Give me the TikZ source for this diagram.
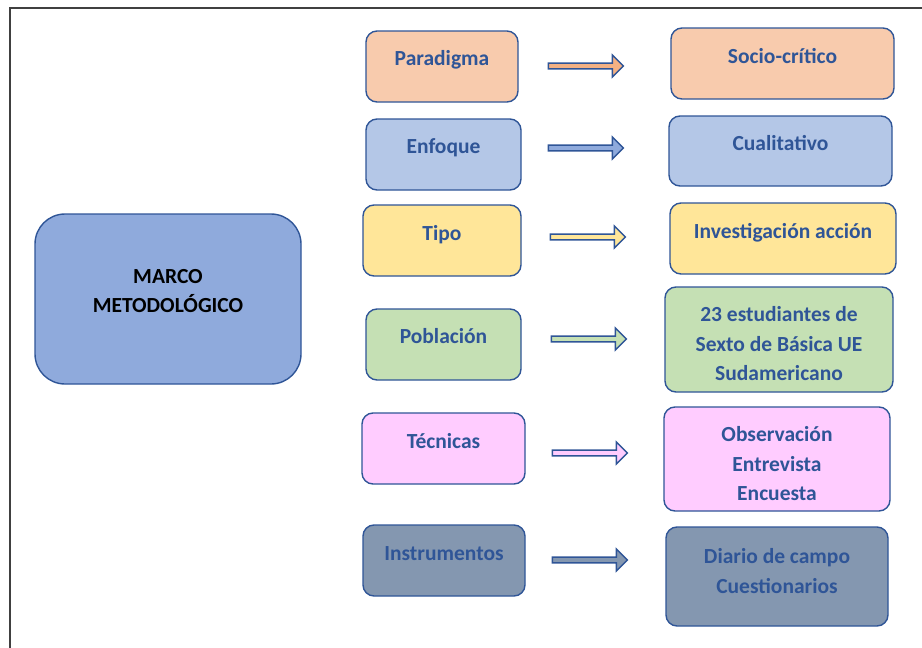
\documentclass[tikz,border=0pt]{standalone}
\usepackage{fontspec}
\setmainfont{Carlito}
\usetikzlibrary{shapes.arrows}

\definecolor{frameblue}{HTML}{2F5597}
\definecolor{peach}{HTML}{F8CBAD}
\definecolor{peachdark}{HTML}{F4B183}
\definecolor{lightblue}{HTML}{B4C7E7}
\definecolor{midblue}{HTML}{8FAADC}
\definecolor{lightyellow}{HTML}{FFE699}
\definecolor{lightgreen}{HTML}{C5E0B4}
\definecolor{pink}{HTML}{FFCCFF}
\definecolor{slate}{HTML}{8497B0}

\tikzset{
  box/.style={draw=frameblue, line width=1.4pt, rounded corners=11pt, inner sep=0pt},
  txt/.style={font=\fontsize{21.5}{29.5}\selectfont\bfseries, text=frameblue, align=center, inner sep=0pt},
  blockarrow/.style={single arrow, draw=frameblue, line width=1.4pt, inner sep=0pt,
    minimum height=75pt, minimum width=22pt, single arrow head extend=2pt},
}

\begin{document}
\begin{tikzpicture}[x=1pt, y=-1pt]
  \useasboundingbox (0,0) rectangle (922,648);
  \draw[black!75, line width=1.5pt] (10,648) -- (10,8) -- (922,8);

  % central box
  \node[box, rounded corners=30pt, fill=midblue, minimum width=266pt, minimum height=170pt] (marco) at (168,299) {};
  \node[txt, text=black, anchor=center] at (168,291) {MARCO\\METODOLÓGICO};

  % left column
  \node[box, fill=peach, minimum width=152pt, minimum height=71pt] (paradigma) at (442,66.5) {};
  \node[box, fill=lightblue, minimum width=155pt, minimum height=71pt] (enfoque) at (443.5,154.5) {};
  \node[box, fill=lightyellow, minimum width=158pt, minimum height=71pt] (tipo) at (442,240.5) {};
  \node[box, fill=lightgreen, minimum width=155pt, minimum height=71pt] (poblacion) at (443.5,344.5) {};
  \node[box, fill=pink, minimum width=163pt, minimum height=71pt] (tecnicas) at (443.5,448.5) {};
  \node[box, fill=slate, minimum width=162pt, minimum height=71pt] (instrumentos) at (444,560.5) {};

  \node[txt, anchor=base] at (442,65) {Paradigma};
  \node[txt, anchor=base] at (443.5,153) {Enfoque};
  \node[txt, anchor=base] at (442,240) {Tipo};
  \node[txt, anchor=base] at (443.5,343) {Población};
  \node[txt, anchor=base] at (443.5,448) {Técnicas};
  \node[txt, anchor=base] at (444,560) {Instrumentos};

  % right column
  \node[box, fill=peach, minimum width=223pt, minimum height=71pt] (sociocritico) at (782.5,63.5) {};
  \node[box, fill=lightblue, minimum width=223pt, minimum height=70pt] (cualitativo) at (780.5,151) {};
  \node[box, fill=lightyellow, minimum width=226pt, minimum height=71pt] (investigacion) at (783,238.5) {};
  \node[box, fill=lightgreen, minimum width=228pt, minimum height=105pt] (estudiantes) at (779,339.5) {};
  \node[box, fill=pink, minimum width=226pt, minimum height=104pt] (observacion) at (777,459) {};
  \node[box, fill=slate, minimum width=222pt, minimum height=99pt] (diario) at (777,576.5) {};

  \node[txt, anchor=base] at (782.5,63) {Socio-crítico};
  \node[txt, anchor=base] at (780.5,150) {Cualitativo};
  \node[txt, anchor=base] at (783,238) {Investigación acción};
  \node[txt, anchor=center] at (779,344) {23 estudiantes de\\Sexto de Básica UE\\Sudamericano};
  \node[txt, anchor=center] at (777,464) {Observación\\Entrevista\\Encuesta};
  \node[txt, anchor=center] at (777,571) {Diario de campo\\Cuestionarios};

  % block arrows
  \node[blockarrow, fill=peachdark] (arrowA) at (584.5,66) {};
  \node[blockarrow, fill=midblue] (arrowB) at (584.5,148) {};
  \node[blockarrow, fill=lightyellow] (arrowC) at (586.5,237) {};
  \node[blockarrow, fill=lightgreen] (arrowD) at (587.5,339) {};
  \node[blockarrow, fill=pink] (arrowE) at (588.5,453) {};
  \node[blockarrow, fill=slate] (arrowF) at (588.5,560) {};
\end{tikzpicture}
\end{document}
